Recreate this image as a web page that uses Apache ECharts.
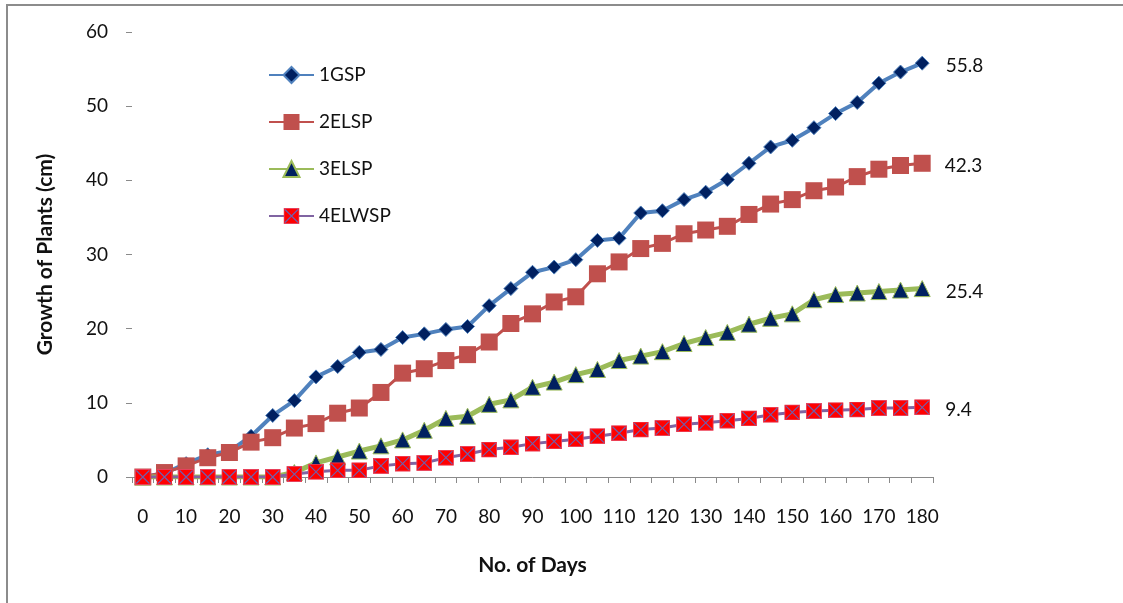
<!DOCTYPE html>
<html>
<head>
<meta charset="utf-8">
<script src="https://cdn.jsdelivr.net/npm/echarts@6/dist/echarts.min.js"></script>
<style>
  html, body { margin: 0; padding: 0; background: #ffffff; }
  #chart { width: 1123px; height: 603px; }
</style>
</head>
<body>
<div id="chart"></div>
<script>
// Days after sowing (every 5 days)
const days = ['0','5','10','15','20','25','30','35','40','45','50','55','60','65','70','75','80','85','90',
              '95','100','105','110','115','120','125','130','135','140','145','150','155','160','165','170','175','180'];

// Plant growth (cm) per treatment
const gsp1 = [0, 0.5, 1.8, 3.0, 3.5, 5.5, 8.3, 10.3, 13.5, 14.9, 16.8, 17.2, 18.8, 19.3, 19.9, 20.3, 23.1, 25.4, 27.6,
              28.3, 29.3, 31.9, 32.2, 35.6, 35.9, 37.4, 38.4, 40.1, 42.3, 44.5, 45.4, 47.1, 49.0, 50.5, 53.1, 54.6, 55.8];
const elsp2 = [0, 0.6, 1.5, 2.6, 3.3, 4.7, 5.3, 6.6, 7.2, 8.6, 9.3, 11.4, 14.0, 14.6, 15.7, 16.5, 18.2, 20.7, 22.0,
               23.6, 24.3, 27.4, 29.0, 30.8, 31.5, 32.8, 33.3, 33.8, 35.4, 36.8, 37.4, 38.6, 39.1, 40.5, 41.5, 42.0, 42.3];
const elsp3 = [0, 0, 0, 0, 0, 0, 0, 0.6, 1.9, 2.7, 3.5, 4.2, 5.0, 6.3, 7.9, 8.2, 9.8, 10.4, 12.1,
               12.8, 13.8, 14.5, 15.7, 16.3, 16.9, 18.0, 18.8, 19.5, 20.6, 21.4, 22.0, 23.9, 24.6, 24.8, 25.0, 25.2, 25.4];
const elwsp4 = [0, 0, 0, 0, 0, 0, 0, 0.4, 0.7, 0.9, 0.9, 1.5, 1.8, 1.9, 2.6, 3.1, 3.7, 4.0, 4.5,
                4.8, 5.1, 5.5, 5.9, 6.4, 6.6, 7.1, 7.3, 7.6, 7.9, 8.4, 8.7, 8.9, 9.0, 9.1, 9.3, 9.3, 9.4];

const seriesNames = ['1GSP', '2ELSP', '3ELSP', '4ELWSP'];
const yTicks = { min: 0, max: 60, step: 10 };

const FONT = 'Lato';
const TEXT = '#111111';
const AXIS_GREY = '#8a8a8a';

// red square crossed by a thin purple X
const crossSvg = "<svg xmlns='http://www.w3.org/2000/svg' width='32' height='32' viewBox='0 0 32 32'>" +
  "<rect x='1' y='1' width='30' height='30' fill='#ff0000' stroke='#e8405a' stroke-width='2'/>" +
  "<path d='M3 3L29 29M29 3L3 29' stroke='#6f5fae' stroke-width='2.2'/></svg>";
const crossSymbol = 'image://data:image/svg+xml;charset=utf-8,' + encodeURIComponent(crossSvg);

const lastIdx = days.length - 1;
function endValueLabel(dist) {
  return {
    show: true,
    position: 'right',
    distance: dist,
    offset: [0, 3],
    color: TEXT,
    fontFamily: FONT,
    fontSize: 19,
    formatter: p => (p.dataIndex === lastIdx ? String(p.value) : '')
  };
}

const chart = echarts.init(document.getElementById('chart'), null, { renderer: 'canvas' });

const common = { type: 'line', showSymbol: true, showAllSymbol: true, z: 2 };

chart.setOption({
  animation: false,
  backgroundColor: '#ffffff',
  textStyle: { fontFamily: FONT },
  grid: { left: 132, right: 190, top: 32, bottom: 126, containLabel: false, outerBoundsMode: 'none' },
  legend: {
    data: seriesNames,
    orient: 'vertical',
    left: 268,
    top: 65,
    padding: 0,
    itemWidth: 45,
    itemHeight: 20,
    itemGap: 27,
    textStyle: { color: TEXT, fontFamily: FONT, fontSize: 19, lineHeight: 20 }
  },
  xAxis: {
    type: 'category',
    data: days,
    boundaryGap: true,
    name: 'No. of Days',
    nameLocation: 'middle',
    nameGap: 78,
    nameTextStyle: { color: TEXT, fontFamily: FONT, fontSize: 21, fontWeight: 'bold' },
    axisLine: { show: true, lineStyle: { color: AXIS_GREY, width: 1 } },
    axisTick: { show: true, interval: 0, length: 6, lineStyle: { color: AXIS_GREY } },
    axisLabel: { interval: 1, margin: 30, color: TEXT, fontFamily: FONT, fontSize: 19 },
    splitLine: { show: false }
  },
  yAxis: {
    type: 'value',
    min: yTicks.min,
    max: yTicks.max,
    interval: yTicks.step,
    name: 'Growth of Plants (cm)',
    nameLocation: 'middle',
    nameGap: 76,
    nameTextStyle: { color: TEXT, fontFamily: FONT, fontSize: 21, fontWeight: 'bold' },
    axisLine: { show: false },
    axisTick: { show: true, length: 6, lineStyle: { color: AXIS_GREY } },
    axisLabel: { margin: 24, color: TEXT, fontFamily: FONT, fontSize: 19 },
    splitLine: { show: false }
  },
  series: [
    Object.assign({}, common, {
      name: seriesNames[0],
      data: gsp1,
      symbol: 'diamond',
      symbolSize: 14,
      lineStyle: { color: '#4f81bd', width: 4 },
      itemStyle: { color: '#002060', borderColor: '#4f81bd', borderWidth: 1 },
      label: endValueLabel(16)
    }),
    Object.assign({}, common, {
      name: seriesNames[1],
      data: elsp2,
      symbol: 'rect',
      symbolSize: 17,
      lineStyle: { color: '#c0504d', width: 3 },
      itemStyle: { color: '#c0504d', borderColor: '#c0504d', borderWidth: 0 },
      label: endValueLabel(14)
    }),
    Object.assign({}, common, {
      name: seriesNames[2],
      data: elsp3,
      symbol: 'triangle',
      symbolSize: 16,
      lineStyle: { color: '#9bbb59', width: 5 },
      itemStyle: { color: '#002060', borderColor: '#9bbb59', borderWidth: 1 },
      label: endValueLabel(15)
    }),
    Object.assign({}, common, {
      name: seriesNames[3],
      data: elwsp4,
      symbol: crossSymbol,
      symbolSize: 16,
      lineStyle: { color: '#8064a2', width: 3 },
      itemStyle: { color: '#ff0000' },
      label: endValueLabel(15)
    })
  ],
  graphic: [
    { type: 'line', shape: { x1: 6, y1: 5, x2: 1123, y2: 5 }, style: { stroke: '#8c8c8c', lineWidth: 2 }, silent: true },
    { type: 'line', shape: { x1: 7, y1: 4, x2: 7, y2: 603 }, style: { stroke: '#8c8c8c', lineWidth: 2 }, silent: true }
  ]
});
</script>
</body>
</html>
